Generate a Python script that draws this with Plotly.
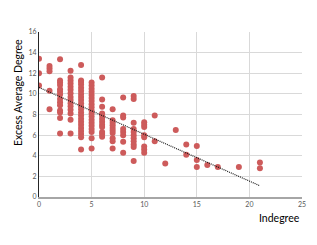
import numpy as np
import plotly.graph_objects as go

# Indegree (x) -> list of Excess Average Degree values (y)
indegree_values = [0, 1, 2, 3, 4, 5, 6, 7, 8, 9, 10, 11, 12, 13, 14, 15, 16, 17, 19, 21]
excess_avg_degree = [
    [13.4, 12.0, 10.8],
    [12.7, 12.45, 12.2, 10.3, 8.5],
    [13.35, 11.3, 11.1, 10.85, 10.45, 10.2, 9.95, 9.5, 9.2, 8.9, 8.4, 8.2, 7.65, 6.15],
    [12.25, 11.6, 11.3, 11.0, 10.7, 10.4, 10.05, 9.7, 9.4, 9.1, 8.8, 8.45, 8.1, 7.5, 6.15],
    [12.8, 11.3, 11.15, 10.9, 10.6, 10.3, 10.0, 9.7, 9.4, 9.1, 8.8, 8.5, 8.2, 7.9, 7.6,
     7.3, 7.0, 6.7, 6.4, 6.1, 5.8, 4.6],
    [11.1, 10.8, 10.5, 10.2, 9.9, 9.6, 9.3, 9.0, 8.7, 8.4, 8.1, 7.8, 7.5, 7.2, 6.9,
     6.6, 6.3, 5.7, 4.7],
    [11.6, 9.45, 8.75, 8.1, 7.9, 7.6, 7.3, 7.0, 6.8, 6.3, 6.1, 5.85],
    [8.5, 7.45, 7.2, 6.95, 6.7, 6.45, 6.2, 5.7, 5.4, 4.7],
    [9.65, 7.9, 7.7, 6.6, 6.3, 6.0, 5.35, 4.3],
    [9.8, 9.5, 7.2, 6.6, 6.3, 6.0, 5.7, 5.4, 5.1, 4.85, 3.5],
    [7.25, 7.0, 6.8, 6.0, 5.8, 4.9, 4.6, 4.3],
    [7.9, 5.4],
    [3.25],
    [6.5],
    [5.1, 4.1],
    [4.95, 3.6, 2.9],
    [3.1],
    [2.9],
    [2.9],
    [3.35, 2.8],
]
x_ticks = [0, 5, 10, 15, 20, 25]
y_ticks = [0, 2, 4, 6, 8, 10, 12, 14, 16]

xs, ys = [], []
for xv, col in zip(indegree_values, excess_avg_degree):
    for yv in col:
        xs.append(xv)
        ys.append(yv)
xs = np.array(xs, dtype=float)
ys = np.array(ys, dtype=float)

slope, intercept = np.polyfit(xs, ys, 1)
tx = np.array([xs.min(), xs.max()])
ty = slope * tx + intercept

fig = go.Figure()
fig.add_trace(go.Scatter(
    x=xs, y=ys, mode="markers",
    marker=dict(color="#cd5b5b", size=6, line=dict(width=0)),
    showlegend=False, hoverinfo="skip",
))
fig.add_trace(go.Scatter(
    x=tx, y=ty, mode="lines",
    line=dict(color="#1a1a1a", width=1.2, dash="1px,1px"),
    showlegend=False, hoverinfo="skip",
))

title_font = dict(size=10.5, color="black", family="Lato, Liberation Sans, sans-serif")

fig.update_layout(
    width=309, height=237,
    margin=dict(l=31, r=15, t=24, b=48),
    paper_bgcolor="white", plot_bgcolor="white",
    font=dict(family="Lato, Liberation Sans, sans-serif", color="#595959", size=7),
    xaxis=dict(
        range=[0, 25], tickvals=x_ticks, ticks="", showgrid=True,
        gridcolor="#d9d9d9", gridwidth=1, zeroline=False,
        showline=True, linecolor="#a6a6a6", linewidth=1.5,
        tickfont=dict(size=7, color="#595959"),
    ),
    yaxis=dict(
        range=[0, 16], tickvals=y_ticks, ticks="", showgrid=True,
        gridcolor="#d9d9d9", gridwidth=1, zeroline=False,
        showline=True, linecolor="#262626", linewidth=1,
        tickfont=dict(size=7, color="#595959"),
    ),
    annotations=[
        dict(text="Excess Average Degree", xref="paper", yref="paper",
             x=-0.08, y=0.636, textangle=-90, showarrow=False,
             font=title_font, xanchor="center", yanchor="middle"),
        dict(text="Indegree", xref="paper", yref="paper",
             x=0.913, y=-0.127, showarrow=False,
             font=title_font, xanchor="center", yanchor="middle"),
    ],
)

fig.write_html("out.html")
